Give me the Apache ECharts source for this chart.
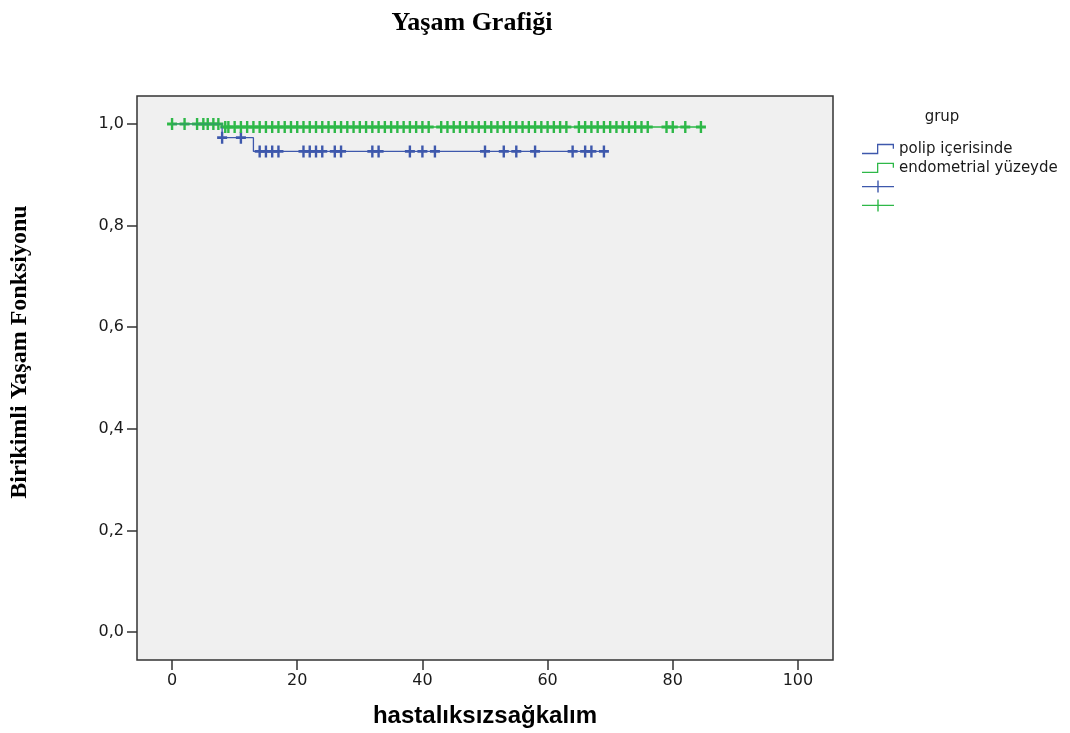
<!DOCTYPE html>
<html lang="tr">
<head>
    <meta charset="UTF-8">
    <title>Yaşam Grafiği</title>
    <script src="https://cdn.jsdelivr.net/npm/echarts@6/dist/echarts.min.js"></script>
    <style>
    html, body { margin: 0; padding: 0; background: #fff; }
    #chart { width: 1070px; height: 733px; }
    </style>
</head>
<body>
    <div id="chart"></div>
    <script type="text/javascript">
    // KM step points [time, survival]
    var polipSteps = [[0, 1], [8, 0.973], [13, 0.946], [69, 0.946]];
    var endoSteps = [[0, 1], [8, 0.994], [84.5, 0.994]];

    // censored times (the "+" marks)
    var polipCensored = [8, 11, 14, 15, 16, 17, 21, 22, 23, 24, 26, 27, 32, 33,
        38, 40, 42, 50, 53, 55, 58, 64, 66, 67, 69];
    var endoCensored = [0, 2, 4, 5, 5.7, 6.6, 7.4, 8.5, 9, 10, 11, 12, 13, 14, 15,
        16, 17, 18, 19, 20, 21, 22, 23, 24, 25, 26, 27, 28, 29, 30, 31, 32, 33, 34,
        35, 36, 37, 38, 39, 40, 41, 43, 44, 45, 46, 47, 48, 49, 50, 51, 52, 53, 54,
        55, 56, 57, 58, 59, 60, 61, 62, 63, 65, 66, 67, 68, 69, 70, 71, 72, 73, 74,
        75, 76, 79, 80, 82, 84.5];

    var groupNames = ['polip içerisinde', 'endometrial yüzeyde'];
    var xTicks = [0, 20, 40, 60, 80, 100];
    var yTicks = [0, 0.2, 0.4, 0.6, 0.8, 1.0];

    var blue = '#3E58AC';
    var green = '#2EB848';
    var plusIcon = 'path://M3.8,0h2.4v3.8h3.8v2.4h-3.8v3.8h-2.4v-3.8h-3.8v-2.4h3.8z';
    var legendPlus = 'path://M0,5.3h32v1.4h-32z M15.3,0h1.4v12h-1.4z';
    var stepIcon = 'path://M0,10h15v-9h17v5h-1.3v-3.7h-14.4v9h-16.3z';

    // survival level at time t (value after any event at t)
    var survAt = function(steps, t) {
        var s = steps[0][1];
        for (var i = 0; i < steps.length; i++) {
            if (steps[i][0] <= t) s = steps[i][1];
        }
        return s;
    };
    var marks = function(steps, times) {
        return times.map(function(t) { return [t, survAt(steps, t)]; });
    };

    var chart = echarts.init(document.getElementById('chart'));
    var tickFont = { fontFamily: 'DejaVu Sans', fontSize: 16, color: '#1a1a1a' };

    var option = {
        animation: false,
        backgroundColor: '#fff',
        title: {
            text: 'Yaşam Grafiği',
            left: 467,
            top: 5,
            textAlign: 'center',
            textStyle: { fontFamily: 'Liberation Serif', fontWeight: 'bold', fontSize: 26, color: '#000' }
        },
        graphic: [{
            type: 'text',
            x: 20,
            y: 352,
            rotation: Math.PI / 2,
            style: {
                text: 'Birikimli Yaşam Fonksiyonu',
                fontFamily: 'Liberation Serif',
                fontWeight: 'bold',
                fontSize: 24,
                fill: '#000',
                align: 'center',
                verticalAlign: 'middle'
            }
        }, {
            type: 'text',
            x: 942,
            y: 117,
            style: {
                text: 'grup',
                fontFamily: 'DejaVu Sans',
                fontSize: 15,
                fill: '#1a1a1a',
                align: 'center',
                verticalAlign: 'middle'
            }
        }],
        legend: {
            orient: 'vertical',
            left: 857,
            top: 136.5,
            itemWidth: 32,
            itemHeight: 12,
            itemGap: 3.8,
            selectedMode: false,
            textStyle: { fontFamily: 'DejaVu Sans', fontSize: 15, color: '#1a1a1a' },
            lineStyle: { opacity: 0 },
            itemStyle: { borderWidth: 0 },
            data: [
                { name: groupNames[0], icon: stepIcon },
                { name: groupNames[1], icon: stepIcon },
                { name: ' ', icon: legendPlus },
                { name: '  ', icon: legendPlus }
            ]
        },
        grid: {
            left: 137,
            top: 96,
            width: 696,
            height: 566,
            show: true,
            backgroundColor: '#F0F0F0',
            borderColor: '#333',
            borderWidth: 1.5
        },
        xAxis: {
            type: 'value',
            min: -5.6,
            max: 105.6,
            name: 'hastalıksızsağkalım',
            nameLocation: 'middle',
            nameGap: 44,
            nameTextStyle: { fontFamily: 'Liberation Sans', fontWeight: 'bold', fontSize: 24, color: '#000' },
            axisLine: { show: false, onZero: false },
            splitLine: { show: false },
            axisTick: { show: true, length: 10, customValues: xTicks, lineStyle: { color: '#333', width: 1.5 } },
            axisLabel: Object.assign({ margin: 13, customValues: xTicks }, tickFont)
        },
        yAxis: {
            type: 'value',
            min: -0.055,
            max: 1.055,
            axisLine: { show: false, onZero: false },
            splitLine: { show: false },
            axisTick: { show: true, length: 10, customValues: yTicks, lineStyle: { color: '#333', width: 1.5 } },
            axisLabel: Object.assign({
                margin: 13,
                customValues: yTicks,
                formatter: function(v) { return v.toFixed(1).replace('.', ','); }
            }, tickFont)
        },
        series: [{
            name: groupNames[0],
            type: 'line',
            step: 'end',
            data: polipSteps,
            symbol: 'none',
            color: blue,
            lineStyle: { color: blue, width: 1.3 }
        }, {
            name: groupNames[1],
            type: 'line',
            step: 'end',
            data: endoSteps,
            symbol: 'none',
            color: green,
            lineStyle: { color: green, width: 1.3 }
        }, {
            name: ' ',
            type: 'scatter',
            data: marks(polipSteps, polipCensored),
            symbol: plusIcon,
            symbolSize: [10, 12],
            itemStyle: { color: blue, opacity: 1 }
        }, {
            name: '  ',
            type: 'scatter',
            data: marks(endoSteps, endoCensored),
            symbol: plusIcon,
            symbolSize: [10, 12],
            itemStyle: { color: green, opacity: 1 }
        }]
    };
    chart.setOption(option);
    </script>
</body>
</html>
